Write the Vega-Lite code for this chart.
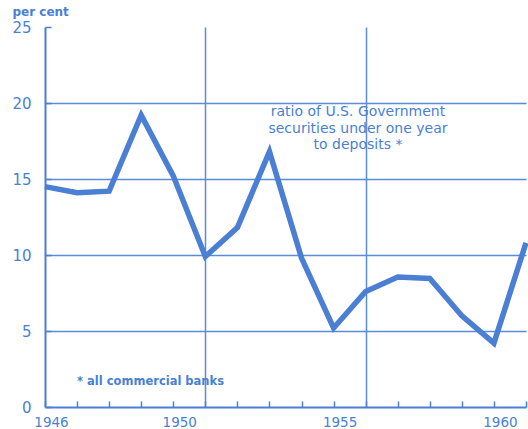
{
  "$schema": "https://vega.github.io/schema/vega-lite/v6.json",
  "width": 481,
  "height": 380,
  "autosize": {"type": "none"},
  "padding": {"left": 45, "top": 27, "right": 2, "bottom": 22},
  "background": "white",
  "config": {"view": {"stroke": null}},
  "layer": [
    {
      "data": {"values": [
        {"year": 1946, "ratio": 14.5},
        {"year": 1947, "ratio": 14.1},
        {"year": 1948, "ratio": 14.2},
        {"year": 1949, "ratio": 19.2},
        {"year": 1950, "ratio": 15.2},
        {"year": 1951, "ratio": 9.9},
        {"year": 1952, "ratio": 11.8},
        {"year": 1953, "ratio": 16.8},
        {"year": 1954, "ratio": 9.8},
        {"year": 1955, "ratio": 5.2},
        {"year": 1956, "ratio": 7.6},
        {"year": 1957, "ratio": 8.55},
        {"year": 1958, "ratio": 8.45},
        {"year": 1959, "ratio": 6.0},
        {"year": 1960, "ratio": 4.2},
        {"year": 1961, "ratio": 10.8}
      ]},
      "mark": {"type": "line", "color": "#4a7fd4", "strokeWidth": 5.5, "strokeJoin": "miter", "strokeCap": "butt"},
      "encoding": {
        "x": {
          "field": "year", "type": "quantitative",
          "scale": {"domain": [1946, 1961], "nice": false, "zero": false},
          "axis": {
            "title": null,
            "values": [1946, 1947, 1948, 1949, 1950, 1951, 1952, 1953, 1954, 1955, 1956, 1957, 1958, 1959, 1960, 1961],
            "labelExpr": "indexof([1946, 1950, 1955, 1960], datum.value) >= 0 ? format(datum.value, 'd') : ''",
            "labelOverlap": false,
            "grid": true,
            "gridColor": "#5a8cdc",
            "gridWidth": 1.5,
            "gridOpacity": {"condition": {"test": "datum.value == 1951 || datum.value == 1956", "value": 1}, "value": 0},
            "domainColor": "#4a7fd4",
            "domainWidth": 2,
            "tickColor": "#4a7fd4",
            "tickWidth": 1.5,
            "tickSize": -6,
            "labelColor": "#4a7fd4",
            "labelFont": "DejaVu Sans",
            "labelFontSize": 13.5,
            "labelPadding": 14,
            "labelOffset": 6,
            "labelFlush": false
          }
        },
        "y": {
          "field": "ratio", "type": "quantitative",
          "scale": {"domain": [0, 25], "nice": false},
          "axis": {
            "title": "per cent",
            "titleAngle": 0,
            "titleAlign": "left",
            "titleBaseline": "middle",
            "titleX": -33,
            "titleY": -16,
            "titleFont": "DejaVu Sans",
            "titleFontSize": 12,
            "titleFontWeight": "bold",
            "titleColor": "#4a7fd4",
            "values": [0, 5, 10, 15, 20, 25],
            "grid": true,
            "gridColor": "#5a8cdc",
            "gridWidth": 1.5,
            "gridOpacity": {"condition": {"test": "datum.value > 0 && datum.value < 25", "value": 1}, "value": 0},
            "domainColor": "#4a7fd4",
            "domainWidth": 2,
            "tickColor": "#4a7fd4",
            "tickWidth": 1.5,
            "tickSize": -6,
            "labelColor": "#4a7fd4",
            "labelFont": "DejaVu Sans",
            "labelFontSize": 15,
            "labelPadding": 20,
            "labelFlush": false
          }
        }
      }
    },
    {
      "data": {"values": [{"label": "ratio of U.S. Government\nsecurities under one year\nto deposits *"}]},
      "mark": {"type": "text", "color": "#4a7fd4", "font": "DejaVu Sans", "fontSize": 14, "align": "center", "baseline": "middle", "lineBreak": "\n", "lineHeight": 16.5},
      "encoding": {
        "x": {
          "datum": 1955.76, "type": "quantitative",
          "scale": {"domain": [1946, 1961], "nice": false, "zero": false},
          "axis": {
            "title": null,
            "values": [1946, 1947, 1948, 1949, 1950, 1951, 1952, 1953, 1954, 1955, 1956, 1957, 1958, 1959, 1960, 1961],
            "labelExpr": "indexof([1946, 1950, 1955, 1960], datum.value) >= 0 ? format(datum.value, 'd') : ''",
            "labelOverlap": false,
            "grid": true,
            "gridColor": "#5a8cdc",
            "gridWidth": 1.5,
            "gridOpacity": {"condition": {"test": "datum.value == 1951 || datum.value == 1956", "value": 1}, "value": 0},
            "domainColor": "#4a7fd4",
            "domainWidth": 2,
            "tickColor": "#4a7fd4",
            "tickWidth": 1.5,
            "tickSize": -6,
            "labelColor": "#4a7fd4",
            "labelFont": "DejaVu Sans",
            "labelFontSize": 13.5,
            "labelPadding": 14,
            "labelOffset": 6,
            "labelFlush": false
          }
        },
        "y": {
          "datum": 19.4, "type": "quantitative",
          "scale": {"domain": [0, 25], "nice": false},
          "axis": {
            "title": "per cent",
            "titleAngle": 0,
            "titleAlign": "left",
            "titleBaseline": "middle",
            "titleX": -33,
            "titleY": -16,
            "titleFont": "DejaVu Sans",
            "titleFontSize": 12,
            "titleFontWeight": "bold",
            "titleColor": "#4a7fd4",
            "values": [0, 5, 10, 15, 20, 25],
            "grid": true,
            "gridColor": "#5a8cdc",
            "gridWidth": 1.5,
            "gridOpacity": {"condition": {"test": "datum.value > 0 && datum.value < 25", "value": 1}, "value": 0},
            "domainColor": "#4a7fd4",
            "domainWidth": 2,
            "tickColor": "#4a7fd4",
            "tickWidth": 1.5,
            "tickSize": -6,
            "labelColor": "#4a7fd4",
            "labelFont": "DejaVu Sans",
            "labelFontSize": 15,
            "labelPadding": 20,
            "labelFlush": false
          }
        },
        "text": {"field": "label"}
      }
    },
    {
      "data": {"values": [{"label": "* all commercial banks"}]},
      "mark": {"type": "text", "color": "#4a7fd4", "font": "DejaVu Sans", "fontSize": 11.5, "fontWeight": "bold", "align": "left", "baseline": "middle"},
      "encoding": {
        "x": {
          "datum": 1947.0, "type": "quantitative",
          "scale": {"domain": [1946, 1961], "nice": false, "zero": false},
          "axis": {
            "title": null,
            "values": [1946, 1947, 1948, 1949, 1950, 1951, 1952, 1953, 1954, 1955, 1956, 1957, 1958, 1959, 1960, 1961],
            "labelExpr": "indexof([1946, 1950, 1955, 1960], datum.value) >= 0 ? format(datum.value, 'd') : ''",
            "labelOverlap": false,
            "grid": true,
            "gridColor": "#5a8cdc",
            "gridWidth": 1.5,
            "gridOpacity": {"condition": {"test": "datum.value == 1951 || datum.value == 1956", "value": 1}, "value": 0},
            "domainColor": "#4a7fd4",
            "domainWidth": 2,
            "tickColor": "#4a7fd4",
            "tickWidth": 1.5,
            "tickSize": -6,
            "labelColor": "#4a7fd4",
            "labelFont": "DejaVu Sans",
            "labelFontSize": 13.5,
            "labelPadding": 14,
            "labelOffset": 6,
            "labelFlush": false
          }
        },
        "y": {
          "datum": 1.64, "type": "quantitative",
          "scale": {"domain": [0, 25], "nice": false},
          "axis": {
            "title": "per cent",
            "titleAngle": 0,
            "titleAlign": "left",
            "titleBaseline": "middle",
            "titleX": -33,
            "titleY": -16,
            "titleFont": "DejaVu Sans",
            "titleFontSize": 12,
            "titleFontWeight": "bold",
            "titleColor": "#4a7fd4",
            "values": [0, 5, 10, 15, 20, 25],
            "grid": true,
            "gridColor": "#5a8cdc",
            "gridWidth": 1.5,
            "gridOpacity": {"condition": {"test": "datum.value > 0 && datum.value < 25", "value": 1}, "value": 0},
            "domainColor": "#4a7fd4",
            "domainWidth": 2,
            "tickColor": "#4a7fd4",
            "tickWidth": 1.5,
            "tickSize": -6,
            "labelColor": "#4a7fd4",
            "labelFont": "DejaVu Sans",
            "labelFontSize": 15,
            "labelPadding": 20,
            "labelFlush": false
          }
        },
        "text": {"field": "label"}
      }
    }
  ]
}
